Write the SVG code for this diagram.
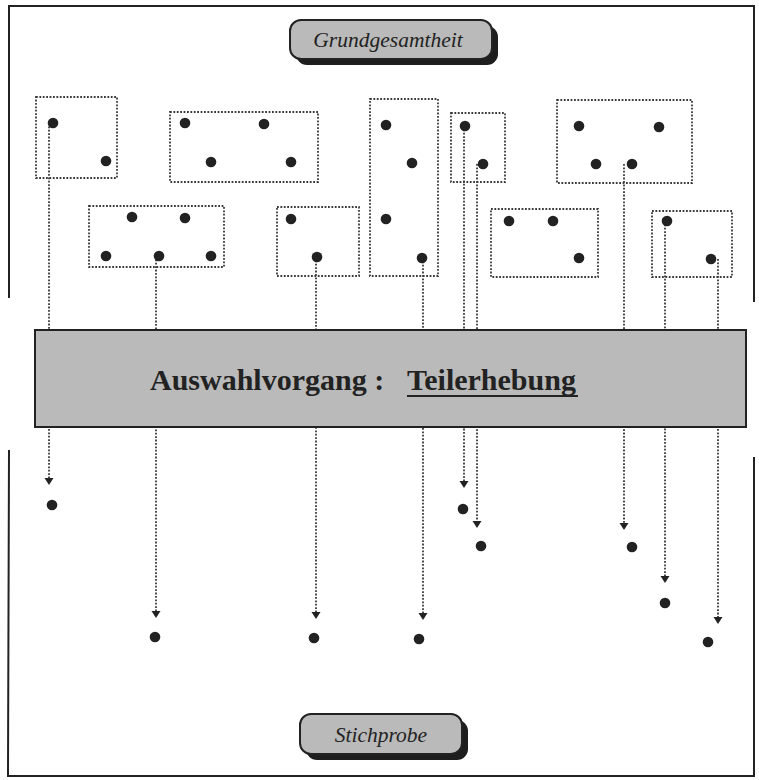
<svg xmlns="http://www.w3.org/2000/svg" width="759" height="780" viewBox="0 0 759 780">
<defs>
<style>
.frame{fill:none;stroke:#222;stroke-width:2}
.grp{fill:none;stroke:#3a3a3a;stroke-width:1.8;stroke-dasharray:1.8 1.6}
.dot{fill:#222}
.conn{fill:none;stroke:#3a3a3a;stroke-width:1.8;stroke-dasharray:1.8 1.6}
.pill{fill:#bababa;stroke:#222;stroke-width:2}
.shadow{fill:#1e1e1e}
.lbl{font-family:"Liberation Serif","DejaVu Serif",serif;font-style:italic;font-size:21.5px;fill:#222;text-anchor:middle}
.ban{font-family:"Liberation Serif","DejaVu Serif",serif;font-weight:bold;font-size:30px;fill:#222}
.ah{fill:#222}
</style>
</defs>
<rect x="0" y="0" width="759" height="780" fill="#fff"/>
<path class="frame" d="M9,298 L9,6 L754,6 L754,302 M9,450 L8,776 L754,776 L754,457"/>

<g id="connectors">
<line class="conn" x1="49" y1="123" x2="49" y2="480"/>
<path class="ah" d="M44.5,478 L53.5,478 L49,485 Z"/>
<line class="conn" x1="156" y1="256" x2="156" y2="612"/>
<path class="ah" d="M151.5,611 L160.5,611 L156,618 Z"/>
<line class="conn" x1="316" y1="257" x2="316" y2="612"/>
<path class="ah" d="M311.5,612 L320.5,612 L316,619 Z"/>
<line class="conn" x1="423" y1="258" x2="423" y2="613"/>
<path class="ah" d="M418.5,613 L427.5,613 L423,620 Z"/>
<line class="conn" x1="464" y1="126" x2="464" y2="481"/>
<path class="ah" d="M459.5,481 L468.5,481 L464,488 Z"/>
<line class="conn" x1="477" y1="164" x2="477" y2="521"/>
<path class="ah" d="M472.5,521 L481.5,521 L477,528 Z"/>
<line class="conn" x1="624" y1="164" x2="624" y2="523"/>
<path class="ah" d="M619.5,523 L628.5,523 L624,530 Z"/>
<line class="conn" x1="665" y1="221" x2="665" y2="576"/>
<path class="ah" d="M660.5,576 L669.5,576 L665,583 Z"/>
<line class="conn" x1="718" y1="259" x2="718" y2="617"/>
<path class="ah" d="M713.5,617 L722.5,617 L718,624 Z"/>
</g>

<g id="grundgesamtheit">
<rect class="shadow" x="296" y="26" width="202" height="39" rx="11"/>
<rect class="pill" x="290" y="20" width="202" height="39" rx="11"/>
<text class="lbl" x="388" y="47">Grundgesamtheit</text>
</g>

<g id="groupA">
<rect class="grp" x="36" y="97" width="81" height="81"/>
<circle class="dot" cx="53" cy="123" r="5.3"/>
<circle class="dot" cx="106" cy="161" r="5.3"/>
</g>
<g id="groupB">
<rect class="grp" x="170" y="112" width="148" height="70"/>
<circle class="dot" cx="185" cy="123" r="5.3"/>
<circle class="dot" cx="264" cy="124" r="5.3"/>
<circle class="dot" cx="211" cy="162" r="5.3"/>
<circle class="dot" cx="291" cy="162" r="5.3"/>
</g>
<g id="groupC">
<rect class="grp" x="89" y="206" width="135" height="61"/>
<circle class="dot" cx="132" cy="217" r="5.3"/>
<circle class="dot" cx="185" cy="218" r="5.3"/>
<circle class="dot" cx="106" cy="256" r="5.3"/>
<circle class="dot" cx="159" cy="256" r="5.3"/>
<circle class="dot" cx="211" cy="256" r="5.3"/>
</g>
<g id="groupD">
<rect class="grp" x="277" y="207" width="82" height="69"/>
<circle class="dot" cx="291" cy="219" r="5.3"/>
<circle class="dot" cx="317" cy="257" r="5.3"/>
</g>
<g id="groupE">
<rect class="grp" x="370" y="99" width="68" height="177"/>
<circle class="dot" cx="386" cy="125" r="5.3"/>
<circle class="dot" cx="412" cy="163" r="5.3"/>
<circle class="dot" cx="386" cy="219" r="5.3"/>
<circle class="dot" cx="422" cy="258" r="5.3"/>
</g>
<g id="groupF">
<rect class="grp" x="451" y="113" width="54" height="69"/>
<circle class="dot" cx="465" cy="126" r="5.3"/>
<circle class="dot" cx="483" cy="164" r="5.3"/>
</g>
<g id="groupG">
<rect class="grp" x="557" y="100" width="135" height="83"/>
<circle class="dot" cx="579" cy="126" r="5.3"/>
<circle class="dot" cx="659" cy="127" r="5.3"/>
<circle class="dot" cx="596" cy="164" r="5.3"/>
<circle class="dot" cx="632" cy="164" r="5.3"/>
</g>
<g id="groupH">
<rect class="grp" x="491" y="209" width="107" height="68"/>
<circle class="dot" cx="509" cy="221" r="5.3"/>
<circle class="dot" cx="553" cy="221" r="5.3"/>
<circle class="dot" cx="579" cy="258" r="5.3"/>
</g>
<g id="groupI">
<rect class="grp" x="652" y="211" width="80" height="66"/>
<circle class="dot" cx="667" cy="221" r="5.3"/>
<circle class="dot" cx="711" cy="259" r="5.3"/>
</g>

<g id="auswahlvorgang">
<rect x="35" y="330" width="711" height="97" fill="#bababa" stroke="#222" stroke-width="2"/>
<text class="ban" x="150" y="390">Auswahlvorgang :</text>
<text class="ban" x="407" y="390">Teilerhebung</text>
<line x1="407" y1="396" x2="578" y2="396" stroke="#222" stroke-width="2"/>
</g>

<g id="sample">
<circle class="dot" cx="52" cy="505" r="5.3"/>
<circle class="dot" cx="155" cy="637" r="5.3"/>
<circle class="dot" cx="314" cy="638" r="5.3"/>
<circle class="dot" cx="419" cy="639" r="5.3"/>
<circle class="dot" cx="463" cy="509" r="5.3"/>
<circle class="dot" cx="481" cy="546" r="5.3"/>
<circle class="dot" cx="632" cy="547" r="5.3"/>
<circle class="dot" cx="665" cy="603" r="5.3"/>
<circle class="dot" cx="708" cy="642" r="5.3"/>
</g>

<g id="stichprobe">
<rect class="shadow" x="306" y="720" width="162" height="40" rx="11"/>
<rect class="pill" x="300" y="714" width="162" height="40" rx="11"/>
<text class="lbl" x="381" y="742">Stichprobe</text>
</g>
</svg>
